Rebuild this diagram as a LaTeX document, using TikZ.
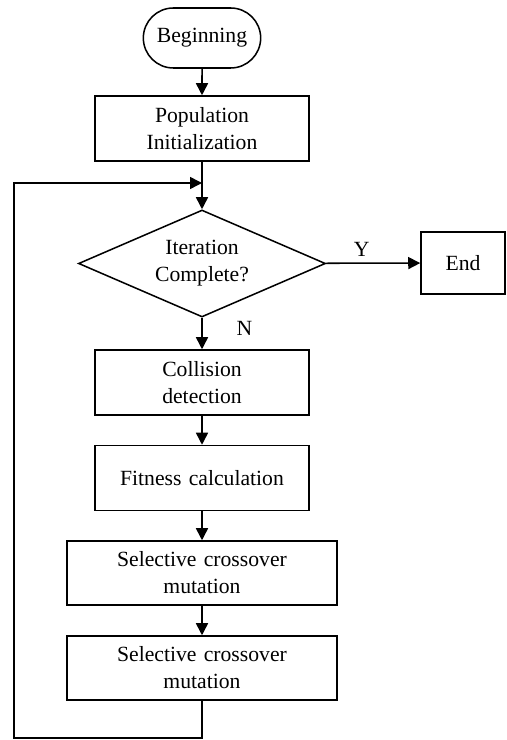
\documentclass[tikz,border=0pt]{standalone}
\usepackage{fontspec}
\setmainfont{Liberation Serif}
\usetikzlibrary{arrows.meta, positioning, shapes.geometric, shapes.misc}

\begin{document}
\begin{tikzpicture}[
    x=0.03cm, y=-0.03cm,
    every node/.style={font=\fontsize{18.5}{23}\selectfont},
    term/.style={rounded rectangle, draw=black, line width=1.3pt, minimum width=3.66cm, minimum height=1.8cm, inner sep=2pt},
    proc/.style={rectangle, draw=black, line width=1.3pt, text width=6.2cm, align=center, minimum width=6.42cm, minimum height=1.95cm, inner sep=0pt},
    wproc/.style={proc, text width=7.8cm, minimum width=8.1cm, minimum height=1.92cm},
    cond/.style={diamond, aspect=2.3, draw=black, line width=1.3pt, align=center, minimum width=7.41cm, minimum height=3.21cm, inner sep=0pt},
    flow/.style={-{Triangle[length=3.6mm,width=3.6mm]}, line width=1.3pt, color=black},
    flab/.style={inner sep=1pt}
]
\useasboundingbox (0,0) rectangle (506,740);

% Nodes
\node[term] (start) at (202,38) {Beginning};
\node[proc] (init) at (202,128.5) {Population\\Initialization};
\node[cond] (check) at (202,263.5) {Iteration\\Complete?};
\node[rectangle, draw=black, line width=1.3pt, minimum width=2.52cm, minimum height=1.86cm] (stop) at (463,263) {End};
\node[proc] (coll) at (202,382.5) {Collision\\detection};
\node[proc] (fit) at (202,478) {Fitness calculation};
\node[wproc] (sel1) at (202,573) {Selective crossover\\mutation};
\node[wproc] (sel2) at (202,668) {Selective crossover\\mutation};

% Loop corners
\coordinate (lbot) at (14,738);
\coordinate (join) at (202,183);

% Flows
\draw[flow] (start) -- (init);
\draw[flow] (init) -- (check);
\draw[flow] (check) -- (stop) node[flab,pos=0.38,above=4pt]{Y};
\draw[flow] (check) -- (coll) node[flab,pos=0.35,right=28pt]{N};
\draw[flow] (coll) -- (fit);
\draw[flow] (fit) -- (sel1);
\draw[flow] (sel1) -- (sel2);
\draw[flow] (sel2.south) |- (lbot) |- (join);
\end{tikzpicture}
\end{document}
